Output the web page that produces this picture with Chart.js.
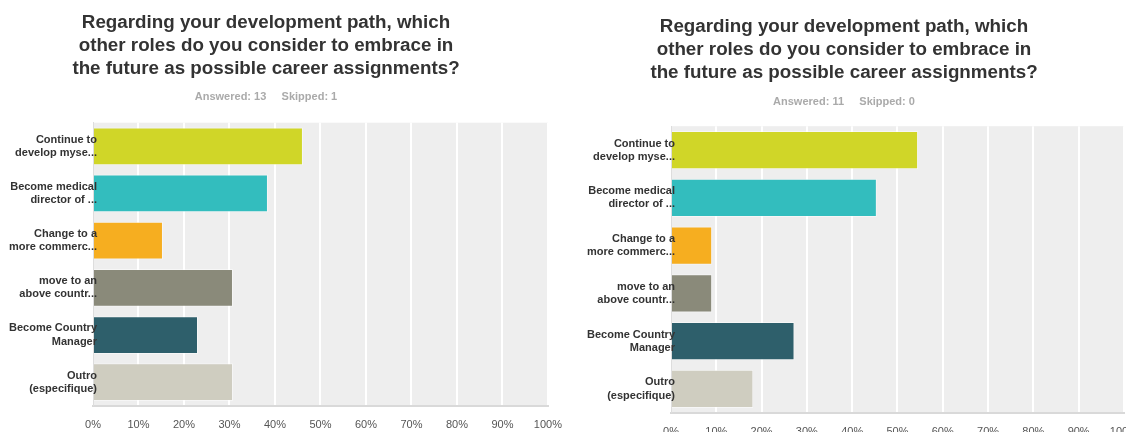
<!DOCTYPE html>
<html>
<head>
<meta charset="utf-8">
<script src="https://cdn.jsdelivr.net/npm/chart.js@4.4.1/dist/chart.umd.min.js"></script>
<style>
    html, body { margin: 0; padding: 0; background: #fff; overflow: hidden; width: 1126px; height: 432px; }
    canvas { position: absolute; top: 0; }
    #chartBefore { left: -43px; }
    #chartAfter { left: 537px; }
</style>
</head>
<body>
<canvas id="chartBefore" width="618" height="445"></canvas>
<canvas id="chartAfter" width="614" height="452"></canvas>
<script>
// answer options (labels are cut the same way the survey tool cuts them)
const roles = [
    ["Continue to", "develop myse..."],
    ["Become medical", "director of ..."],
    ["Change to a", "more commerc..."],
    ["move to an", "above countr..."],
    ["Become Country", "Manager"],
    ["Outro", "(especifique)"]
];

const roleColors = ["#d0d628", "#33bdbe", "#f6ae20", "#8a8a7a", "#2e5f6b", "#cfcdc0"];

// % of respondents per option
const firstRound = [46.15, 38.46, 15.38, 30.77, 23.08, 30.77];
const secondRound = [54.55, 45.45, 9.09, 9.09, 27.27, 18.18];

const percentTicks = [0, 10, 20, 30, 40, 50, 60, 70, 80, 90, 100];

const question = [
    "Regarding your development path, which",
    "other roles do you consider to embrace in",
    "the future as possible career assignments?"
];
const firstCounts = "Answered: 13     Skipped: 1";
const secondCounts = "Answered: 11     Skipped: 0";

const FONT = "'Liberation Sans', Arial, Helvetica, sans-serif";

// grey plot background behind the bars
const plotBackground = {
    id: "plotBackground",
    beforeDraw(chart) {
        const a = chart.chartArea;
        chart.ctx.save();
        chart.ctx.fillStyle = "#eeeeee";
        chart.ctx.fillRect(a.left, a.top, a.right - a.left, a.bottom - a.top);
        chart.ctx.restore();
    }
};

// category labels run a few pixels into the bars; the axis clips its own
// labels to its box, so they are written here, over the bars
const roleLabels = {
    id: "roleLabels",
    afterDatasetsDraw(chart) {
        const scale = chart.scales.y;
        const ctx = chart.ctx;
        const lineHeight = 13.2;
        ctx.save();
        ctx.font = "bold 11px " + FONT;
        ctx.fillStyle = "#333333";
        ctx.textAlign = "right";
        ctx.textBaseline = "middle";
        chart.data.labels.forEach(function (lines, i) {
            const yc = scale.getPixelForTick(i);
            lines.forEach(function (line, j) {
                ctx.fillText(line, scale.right + 4, yc + (j - (lines.length - 1) / 2) * lineHeight);
            });
        });
        ctx.restore();
    }
};

function drawSurveyChart(canvasId, values, counts, gaps, axisWidth) {

    new Chart(document.getElementById(canvasId), {

        type: "bar",

        data: {
            labels: roles,
            datasets: [{
                data: values,
                backgroundColor: roleColors,
                borderColor: "rgba(255,255,255,0.45)",
                borderWidth: 1,
                barPercentage: 0.8,
                categoryPercentage: 1
            }]
        },

        options: {
            indexAxis: "y",
            responsive: false,
            animation: false,
            layout: {
                padding: 0
            },
            scales: {
                x: {
                    min: 0,
                    max: 100,
                    afterBuildTicks: function (scale) {
                        scale.ticks = percentTicks.map(v => ({ value: v }));
                    },
                    grid: {
                        color: "#ffffff",
                        lineWidth: 2,
                        drawTicks: false
                    },
                    border: {
                        display: true,
                        color: "#d9d9d9",
                        width: 2
                    },
                    ticks: {
                        padding: 13,
                        color: "#555555",
                        font: { family: FONT, size: 11 },
                        callback: function (value) {
                            return value + "%";
                        }
                    }
                },
                y: {
                    afterFit: function (scale) {
                        scale.width = axisWidth;
                    },
                    grid: { display: false, drawTicks: false },
                    border: {
                        display: true,
                        color: "#dddddd",
                        width: 1
                    },
                    ticks: {
                        // sized by the axis, painted by roleLabels
                        color: "rgba(0,0,0,0)",
                        font: { family: FONT, size: 11, weight: "bold", lineHeight: 1.2 }
                    }
                }
            },
            plugins: {
                legend: { display: false },
                tooltip: { enabled: false },
                title: {
                    display: true,
                    text: question,
                    color: "#333333",
                    font: { family: FONT, size: 18.8, weight: "bold", lineHeight: "23px" },
                    padding: { top: gaps[0], bottom: gaps[1] }
                },
                subtitle: {
                    display: true,
                    text: counts,
                    color: "#aaaaaa",
                    font: { family: FONT, size: 11, weight: "bold", lineHeight: 1.2 },
                    padding: { top: 0, bottom: gaps[2] }
                }
            }
        },

        plugins: [plotBackground, roleLabels]

    });

}

drawSurveyChart("chartBefore", firstRound, firstCounts, [11.5, 10, 19], 136);
drawSurveyChart("chartAfter", secondRound, secondCounts, [15, 11, 18], 134);
</script>
</body>
</html>
